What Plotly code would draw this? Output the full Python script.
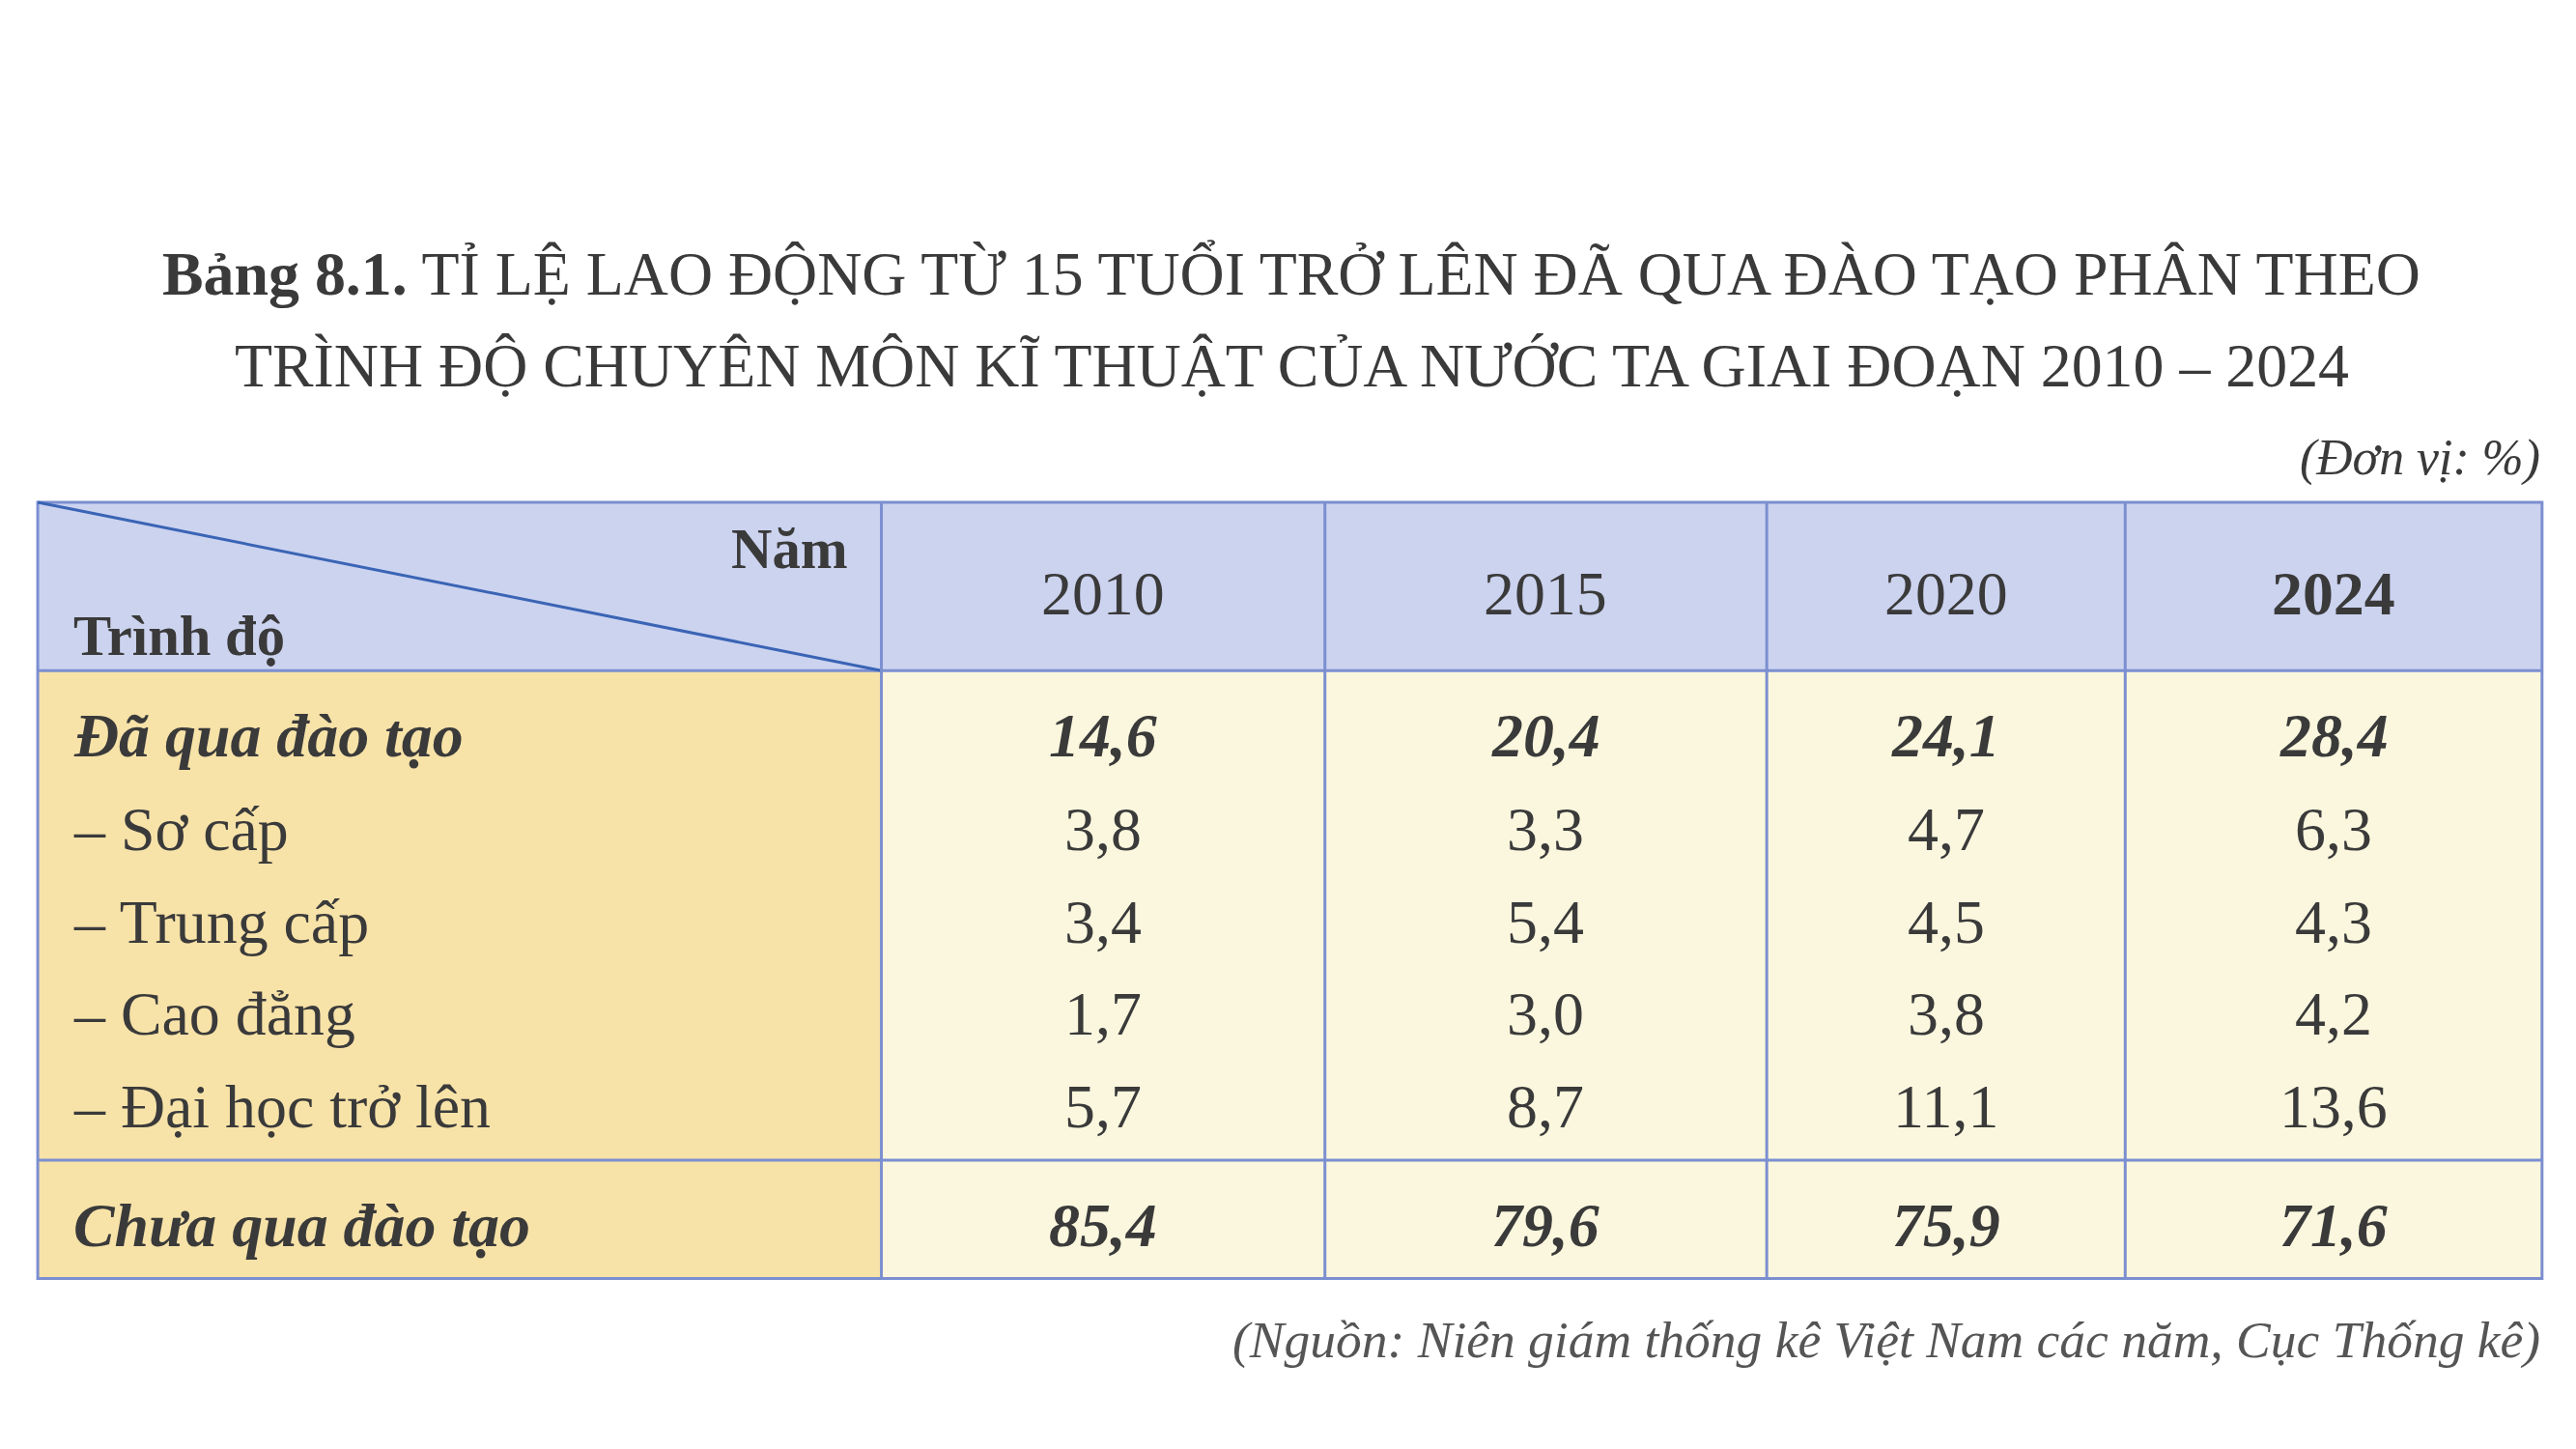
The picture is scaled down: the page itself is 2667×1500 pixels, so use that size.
import plotly.graph_objects as go

years = ["2010", "2015", "2020", "2024"]
row_labels = ["Đã qua đào tạo", "– Sơ cấp", "– Trung cấp", "– Cao đẳng", "– Đại học trở lên", "Chưa qua đào tạo"]
da_qua = [14.6, 20.4, 24.1, 28.4]
so_cap = [3.8, 3.3, 4.7, 6.3]
trung_cap = [3.4, 5.4, 4.5, 4.3]
cao_dang = [1.7, 3.0, 3.8, 4.2]
dai_hoc = [5.7, 8.7, 11.1, 13.6]
chua_qua = [85.4, 79.6, 75.9, 71.6]
values = [da_qua, so_cap, trung_cap, cao_dang, dai_hoc, chua_qua]
bold_rows = [0, 5]

W, H = 1545, 870
S = 2667 / W
col_x = [18, 524, 790, 1055, 1270, 1520]
row_y = [437, 493, 549, 604, 660, 731]
top, head_bot, sep, bot = 297, 398, 692, 763
border = "#7b8fd0"
serif = "Liberation Serif"

fig = go.Figure()
shapes = [
    dict(type="rect", x0=col_x[0], x1=col_x[-1], y0=top, y1=head_bot, fillcolor="#ccd3ef", line_width=0, layer="below"),
    dict(type="rect", x0=col_x[0], x1=col_x[1], y0=head_bot, y1=bot, fillcolor="#f7e2a8", line_width=0, layer="below"),
    dict(type="rect", x0=col_x[1], x1=col_x[-1], y0=head_bot, y1=bot, fillcolor="#fbf7de", line_width=0, layer="below"),
    dict(type="rect", x0=col_x[0], x1=col_x[-1], y0=top, y1=bot, line=dict(color=border, width=3)),
    dict(type="line", x0=col_x[0], x1=col_x[-1], y0=head_bot, y1=head_bot, line=dict(color=border, width=3)),
    dict(type="line", x0=col_x[0], x1=col_x[-1], y0=sep, y1=sep, line=dict(color=border, width=3)),
    dict(type="line", x0=col_x[0], x1=col_x[1], y0=top, y1=head_bot, line=dict(color="#3a64b5", width=3)),
]
for x in col_x[1:-1]:
    shapes.append(dict(type="line", x0=x, x1=x, y0=top, y1=bot, line=dict(color=border, width=3)))

ann = []
def t(x, y, s, size=38, xa="center", color="#3a3a3a"):
    ann.append(dict(x=x, y=y, text=s, showarrow=False, xanchor=xa, yanchor="middle",
                    font=dict(family=serif, size=size * S, color=color)))

t(770, 160, "<b>Bảng 8.1.</b> TỈ LỆ LAO ĐỘNG TỪ 15 TUỔI TRỞ LÊN ĐÃ QUA ĐÀO TẠO PHÂN THEO", 37)
t(770, 215, "TRÌNH ĐỘ CHUYÊN MÔN KĨ THUẬT CỦA NƯỚC TA GIAI ĐOẠN 2010 – 2024", 37)
t(1520, 270, "<i>(Đơn vị: %)</i>", 30, "right")
t(505, 325, "<b>Năm</b>", 34, "right")
t(38, 377, "<b>Trình độ</b>", 34, "left")
for j, yr in enumerate(years):
    cx = (col_x[j + 1] + col_x[j + 2]) / 2
    t(cx, 352, f"<b>{yr}</b>" if j == 3 else yr, 37)
for i, lab in enumerate(row_labels):
    y = row_y[i]
    t(38, y, f"<b><i>{lab}</i></b>" if i in bold_rows else lab, 37, "left")
    for j, v in enumerate(values[i]):
        cx = (col_x[j + 1] + col_x[j + 2]) / 2
        s = f"{v:.1f}".replace(".", ",")
        t(cx, y, f"<b><i>{s}</i></b>" if i in bold_rows else s, 37)
t(1520, 800, "<i>(Nguồn: Niên giám thống kê Việt Nam các năm, Cục Thống kê)</i>", 31, "right", "#555")

fig.update_layout(
    width=2667, height=1500, margin=dict(l=0, r=0, t=0, b=0),
    paper_bgcolor="white", plot_bgcolor="white", shapes=shapes, annotations=ann,
    xaxis=dict(range=[0, W], visible=False),
    yaxis=dict(range=[H, 0], visible=False),
)
fig.write_html("out.html")
